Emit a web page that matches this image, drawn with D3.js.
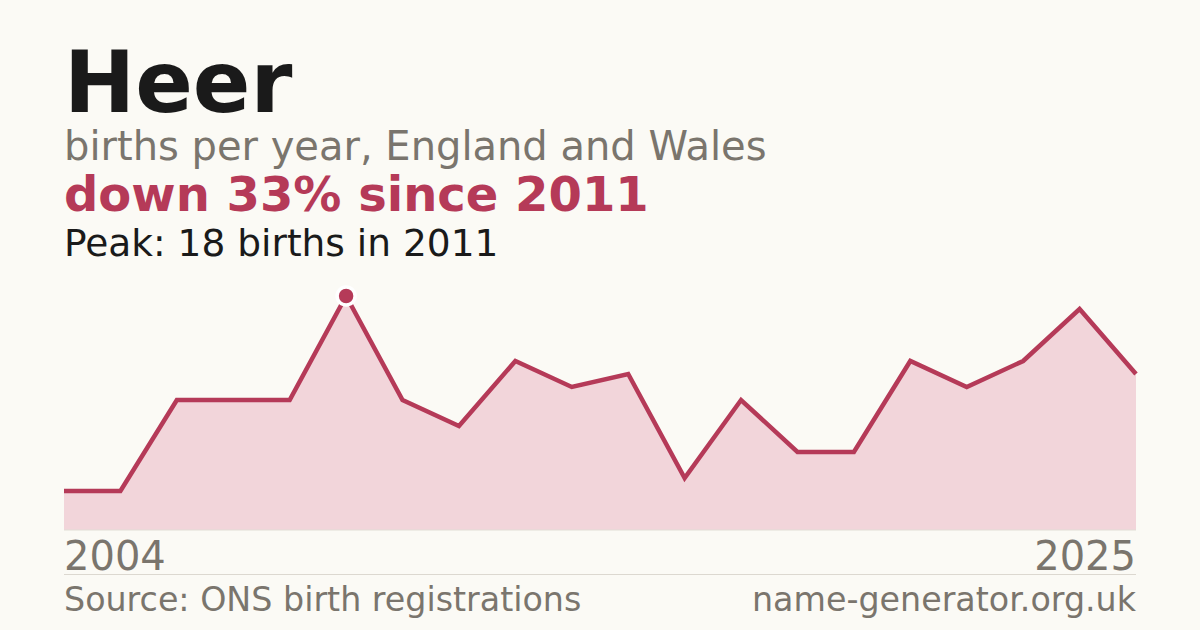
<!DOCTYPE html>
<html><head><meta charset="utf-8">
<script src="https://cdn.jsdelivr.net/npm/d3@7"></script>
<style>html,body{margin:0;padding:0;background:#fbfaf5;}svg{display:block;}</style>
</head><body>
<svg id="c" width="1200" height="630"></svg>
<script>
const years = [2004,2005,2006,2008,2010,2011,2012,2013,2014,2015,2016,2017,2018,2019,2020,2021,2022,2023,2024,2025];
const births = [3,3,10,10,10,18,10,8,13,11,12,4,10,6,6,13,11,13,17,12];
const axisLabels = ["2004","2025"];
const title = "Heer";
const subtitle = "births per year, England and Wales";
const headline = "down 33% since 2011";
const peakText = "Peak: 18 births in 2011";
const sourceText = "Source: ONS birth registrations";
const siteText = "name-generator.org.uk";

const svg = d3.select("#c");
const font = "'DejaVu Sans', sans-serif";
const red = "#b53a58";
const grey = "#7a756d";

svg.append("rect").attr("width",1200).attr("height",630).attr("fill","#fbfaf5");

const x = d3.scalePoint().domain(years).range([64,1136]);
const y = d3.scaleLinear().domain([0,18]).range([530,296]);

const data = years.map((yr,i)=>({yr, v:births[i]}));

svg.append("path").datum(data)
  .attr("fill","#f2d5da")
  .attr("d", d3.area().x(d=>x(d.yr)).y0(y(0)).y1(d=>y(d.v)));

svg.append("line").attr("x1",64).attr("x2",1136).attr("y1",y(0)).attr("y2",y(0))
  .attr("stroke","#e2ddd6").attr("stroke-width",1);

svg.append("path").datum(data)
  .attr("fill","none").attr("stroke",red).attr("stroke-width",4.5)
  .attr("stroke-linejoin","miter")
  .attr("d", d3.line().x(d=>x(d.yr)).y(d=>y(d.v)));

const peakIdx = births.indexOf(d3.max(births));
svg.append("circle").attr("cx",x(years[peakIdx])).attr("cy",y(births[peakIdx]))
  .attr("r",9).attr("fill",red).attr("stroke","#ffffff").attr("stroke-width",3.5);

svg.append("text").attr("x",64).attr("y",112).attr("font-family",font).attr("font-weight","bold")
  .attr("font-size",85).attr("fill","#1a1a1a").text(title);
svg.append("text").attr("x",64).attr("y",160).attr("font-family",font)
  .attr("font-size",40).attr("fill",grey).text(subtitle);
svg.append("text").attr("x",64).attr("y",211).attr("font-family",font).attr("font-weight","bold")
  .attr("font-size",48).attr("fill",red).text(headline);
svg.append("text").attr("x",64).attr("y",256).attr("font-family",font)
  .attr("font-size",37.5).attr("fill","#1a1a1a").text(peakText);

svg.append("text").attr("x",64).attr("y",570).attr("font-family",font)
  .attr("font-size",40).attr("fill",grey).text(axisLabels[0]);
svg.append("text").attr("x",1136).attr("y",570).attr("text-anchor","end").attr("font-family",font)
  .attr("font-size",40).attr("fill",grey).text(axisLabels[1]);

svg.append("line").attr("x1",64).attr("x2",1136).attr("y1",574.5).attr("y2",574.5)
  .attr("stroke","#dcd8d0").attr("stroke-width",1);

svg.append("text").attr("x",64).attr("y",611).attr("font-family",font)
  .attr("font-size",33.3).attr("fill",grey).text(sourceText);
svg.append("text").attr("x",1136).attr("y",611).attr("text-anchor","end").attr("font-family",font)
  .attr("font-size",33.3).attr("fill",grey).text(siteText);
</script>
</body></html>
